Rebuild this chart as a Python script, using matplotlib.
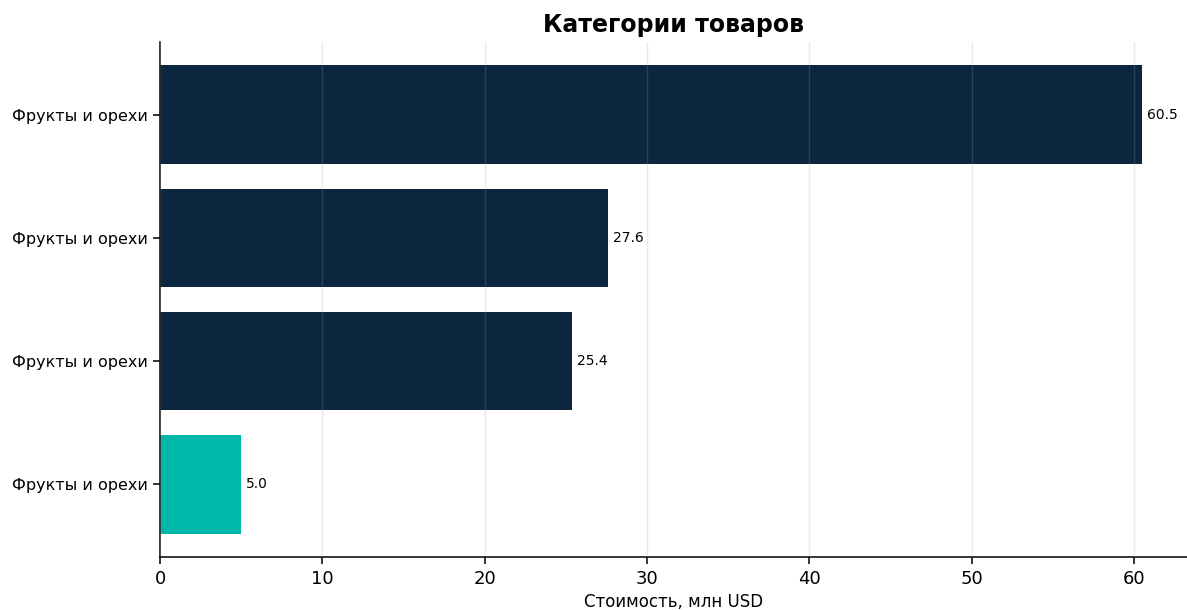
import matplotlib
matplotlib.use("Agg")
import matplotlib.pyplot as plt

categories = ["Фрукты и орехи", "Фрукты и орехи", "Фрукты и орехи", "Фрукты и орехи"]
values = [5.0, 25.4, 27.6, 60.5]
colors = ["#00b8a9", "#0c2640", "#0c2640", "#0c2640"]
xticks = [0, 10, 20, 30, 40, 50, 60]

fig = plt.figure(figsize=(11.87, 6.10), dpi=100)
ax = fig.add_axes([160/1187, 1-557/610, 1-160/1187, (557-42)/610])

pos = list(range(len(values)))
bars = ax.barh(pos, values, height=0.8, color=colors, zorder=1)
ax.set_yticks(pos)
ax.set_yticklabels(categories, fontsize=11.5)
ax.set_xticks(xticks)
ax.tick_params(axis="x", labelsize=13, length=5, width=1.1, pad=4)
ax.tick_params(axis="y", length=5, width=1.1, pad=4)
ax.set_xlim(0, 63.27)
ax.set_ylim(-0.59, 3.59)
ax.grid(axis="x", color="#a0a0a0", alpha=0.22, linewidth=1, zorder=2)
ax.set_axisbelow(False)
for s in ["top", "right"]:
    ax.spines[s].set_visible(False)
for s in ["left", "bottom"]:
    ax.spines[s].set_linewidth(1.1)
for v, p in zip(values, pos):
    ax.text(v + 0.3, p, f"{v:.1f}", va="center", ha="left", fontsize=10)
ax.set_xlabel("Стоимость, млн USD", fontsize=12, labelpad=4)
ax.set_title("Категории товаров", fontsize=17, fontweight="bold", pad=7)

fig.savefig("out.png", dpi=100)
